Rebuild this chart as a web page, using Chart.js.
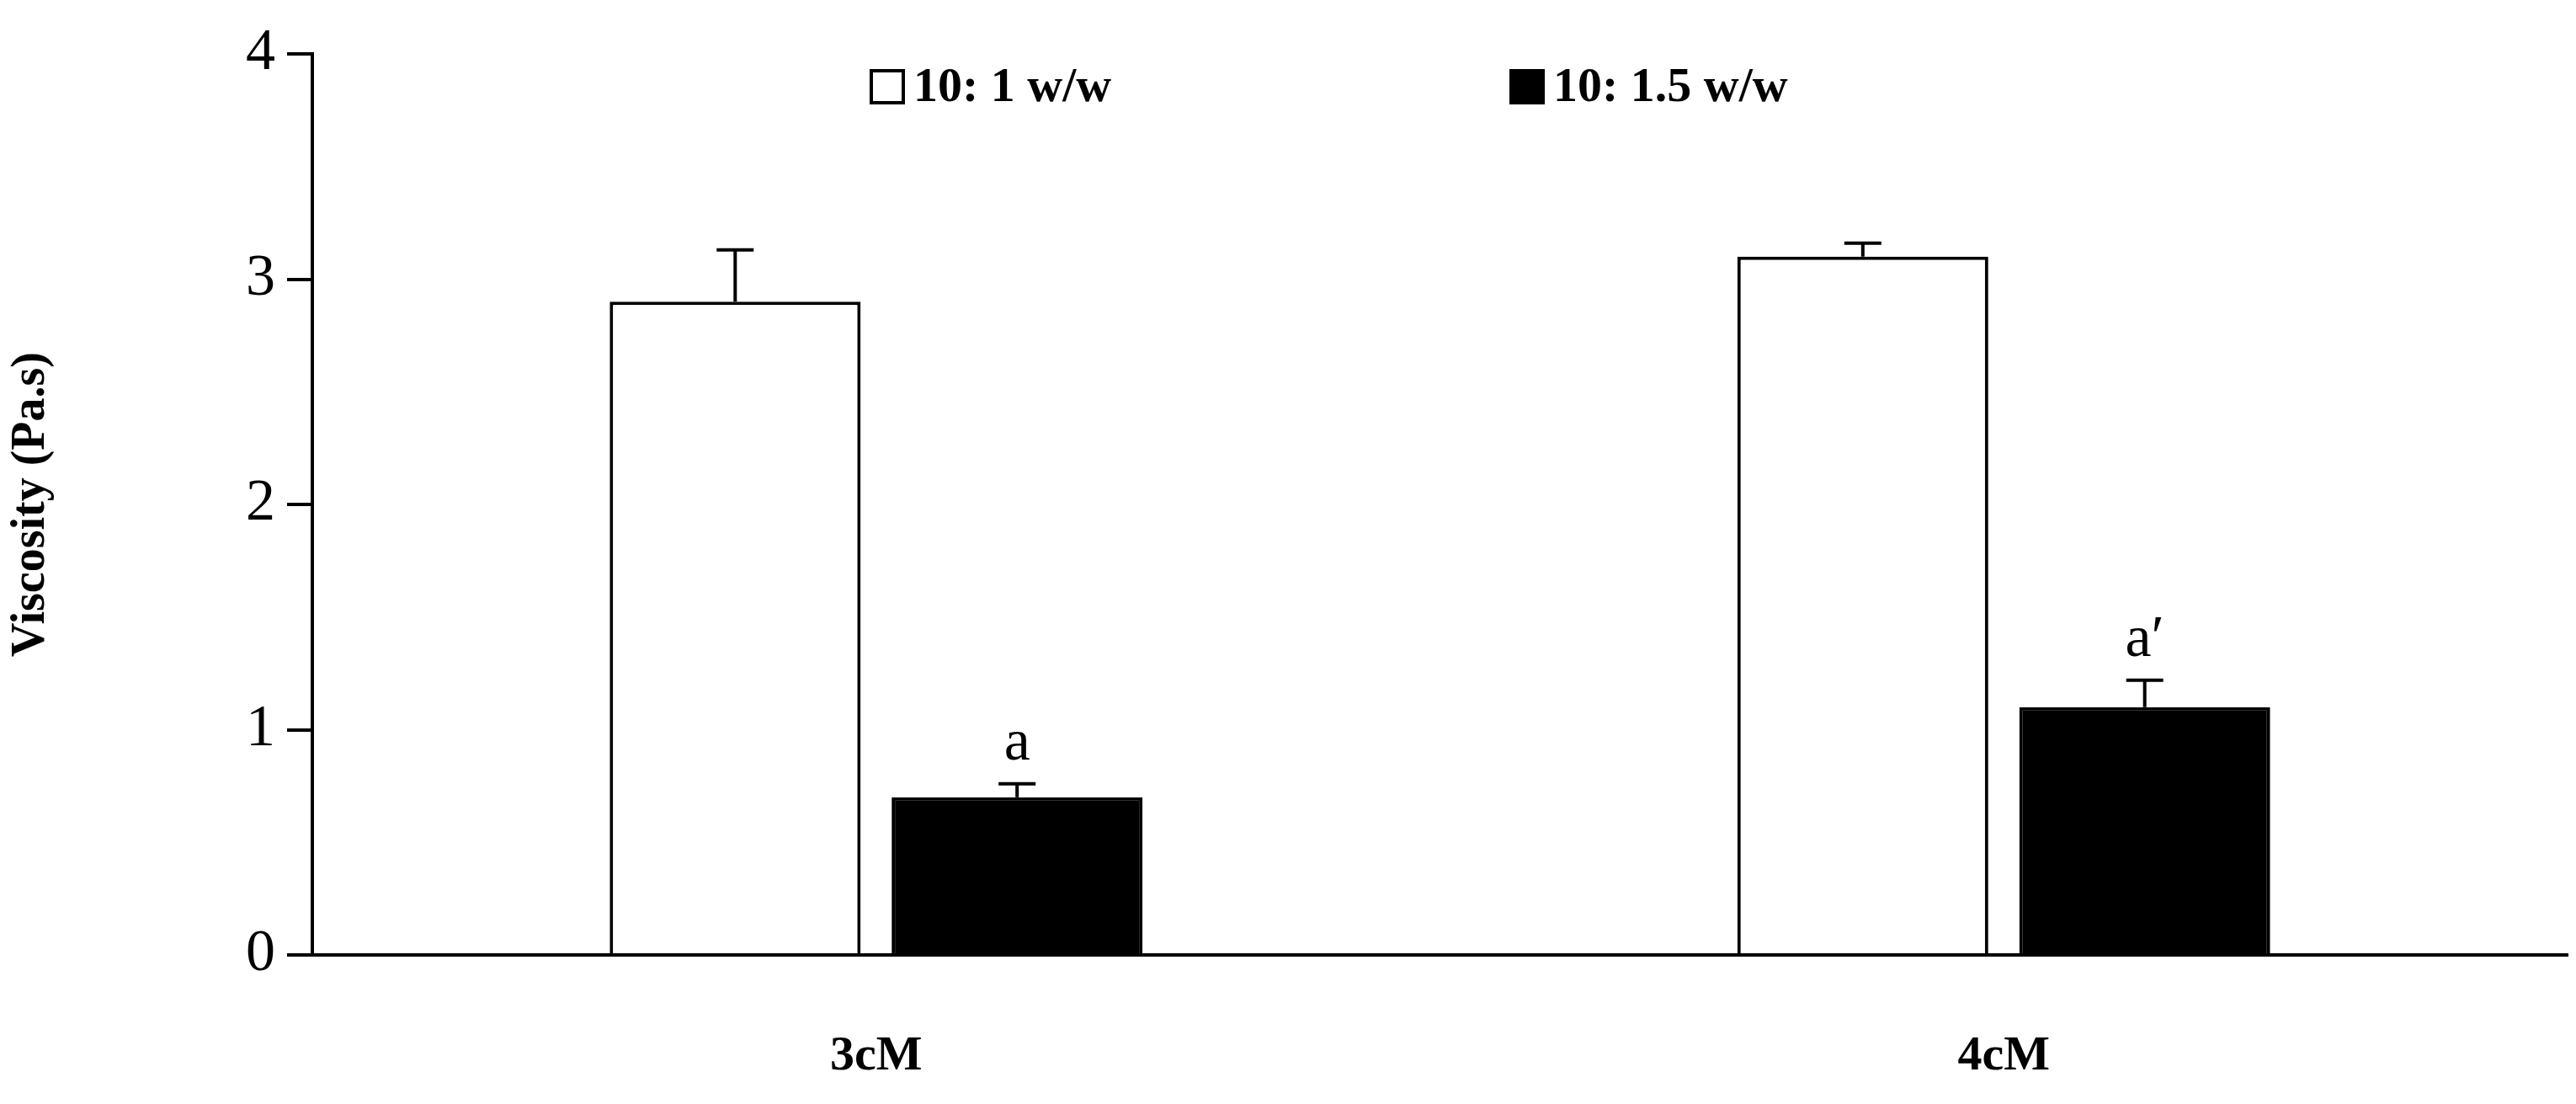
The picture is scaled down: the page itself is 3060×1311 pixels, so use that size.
<!DOCTYPE html>
<html><head><meta charset="utf-8">
<script src="https://cdn.jsdelivr.net/npm/chart.js@4"></script>
<style>html,body{margin:0;background:#fff}#w{width:3060px;height:1311px}</style>
</head><body><div id="w"><canvas id="c"></canvas></div>
<script>
const categories = ["3cM", "4cM"];
const seriesNames = ["10: 1 w/w", "10: 1.5 w/w"];
const values1 = [2.9, 3.1];
const values2 = [0.7, 1.1];
const errTop1 = [3.13, 3.16];
const errTop2 = [0.76, 1.22];
const letters1 = ["", ""];
const letters2 = ["a", "a\u2032"];
const yTicks = [0, 1, 2, 3, 4];

const serif = "'Liberation Serif','DejaVu Serif',serif";
const extras = {
  id: 'extras',
  afterDatasetsDraw(chart) {
    const ctx = chart.ctx, y = chart.scales.y;
    const tops = [errTop1, errTop2], lets = [letters1, letters2];
    chart.data.datasets.forEach((ds, di) => {
      chart.getDatasetMeta(di).data.forEach((bar, i) => {
        const yt = y.getPixelForValue(tops[di][i]);
        ctx.save(); ctx.strokeStyle = '#000'; ctx.lineWidth = 4;
        ctx.beginPath(); ctx.moveTo(bar.x, bar.y); ctx.lineTo(bar.x, yt);
        ctx.moveTo(bar.x - 22, yt); ctx.lineTo(bar.x + 22, yt); ctx.stroke();
        if (lets[di][i]) {
          ctx.fillStyle = '#000'; ctx.font = "70px " + serif;
          ctx.textAlign = 'center'; ctx.textBaseline = 'bottom';
          ctx.fillText(lets[di][i], bar.x, yt - 12);
        }
        ctx.restore();
      });
    });
    // legend
    const pos = [[1035, 1085], [1795, 1845]];
    ctx.save(); ctx.font = "bold 58px " + serif; ctx.textBaseline = 'middle';
    chart.data.datasets.forEach((ds, di) => {
      const [bx, tx] = pos[di];
      ctx.fillStyle = ds.backgroundColor; ctx.fillRect(bx, 84, 38, 38);
      ctx.strokeStyle = '#000'; ctx.lineWidth = 4; ctx.strokeRect(bx, 84, 38, 38);
      ctx.fillStyle = '#000'; ctx.fillText(ds.label, tx, 105);
    });
    ctx.restore();
  }
};

new Chart(document.getElementById('c'), {
  type: 'bar',
  data: {
    labels: categories,
    datasets: [
      { label: seriesNames[0], data: values1, backgroundColor: '#ffffff', borderColor: '#000', borderWidth: 4 },
      { label: seriesNames[1], data: values2, backgroundColor: '#000000', borderColor: '#000', borderWidth: 4 }
    ]
  },
  options: {
    responsive: true, maintainAspectRatio: false, animation: false,
    layout: { padding: { top: 64, right: 10, left: 0, bottom: 0 } },
    plugins: { legend: { display: false }, tooltip: { enabled: false } },
    datasets: { bar: { categoryPercentage: 0.5, barPercentage: 0.89 } },
    scales: {
      x: {
        grid: { display: false, drawTicks: false },
        border: { color: '#000', width: 4 },
        ticks: { color: '#000', padding: 86, font: { family: serif, size: 58, weight: 'bold' } },
        afterFit(s) { s.height = 177; }
      },
      y: {
        min: 0, max: 4,
        afterBuildTicks(s) { s.ticks = yTicks.map(v => ({ value: v })); },
        grid: { display: true, drawOnChartArea: false, drawTicks: true, tickLength: 30, color: '#000', lineWidth: 4 },
        border: { color: '#000', width: 4 },
        ticks: { color: '#000', padding: 14, font: { family: serif, size: 70 } },
        title: { display: true, text: 'Viscosity (Pa.s)', color: '#000', font: { family: serif, size: 56, weight: 'bold' }, padding: { bottom: 40 } },
        afterFit(s) { s.width = 371; }
      }
    }
  },
  plugins: [extras]
});
</script></body></html>
